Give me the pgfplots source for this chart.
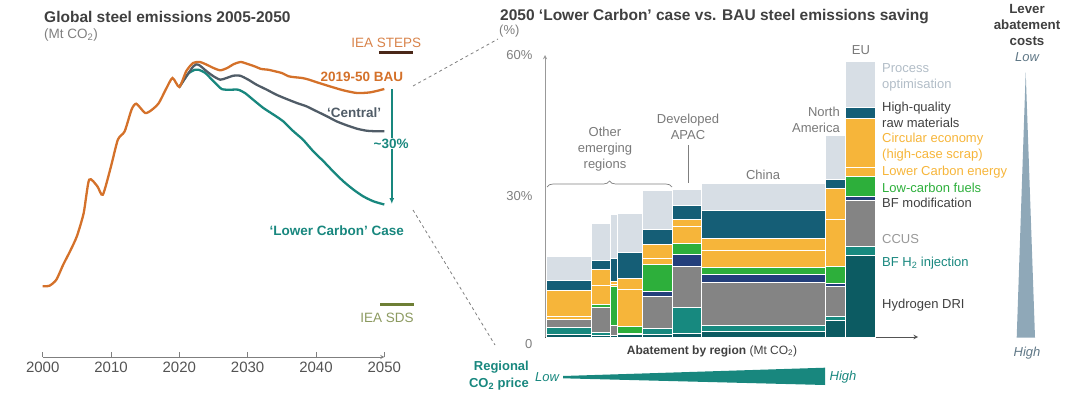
\documentclass[border=0pt]{standalone}
\usepackage{fontspec}
\setmainfont{Liberation Sans}
\usepackage{pgfplots}
\usepackage{pgfplotstable}
\pgfplotsset{compat=1.18}
\usetikzlibrary{arrows.meta,decorations.pathreplacing}

\definecolor{cHDRI}{HTML}{0C5B62}
\definecolor{cH2}{HTML}{17897F}
\definecolor{cCCUS}{HTML}{848484}
\definecolor{cBFM}{HTML}{233F7B}
\definecolor{cLCF}{HTML}{2DAF3B}
\definecolor{cOR}{HTML}{F6B53A}
\definecolor{cHQ}{HTML}{155E76}
\definecolor{cPO}{HTML}{D7DEE5}
\definecolor{cBAU}{HTML}{D4712A}
\definecolor{cCEN}{HTML}{505C67}
\definecolor{cLC}{HTML}{18877E}
\definecolor{cTxt}{HTML}{404040}
\definecolor{cGray}{HTML}{7F7F7F}
\definecolor{cSteps}{HTML}{4A2818}
\definecolor{cSDS}{HTML}{6E7F35}
\definecolor{cSDStxt}{HTML}{8C9A60}
\definecolor{cStepsTxt}{HTML}{D8834A}
\definecolor{cLever}{HTML}{8FA8B8}
\definecolor{cLeverTxt}{HTML}{5F7786}
\definecolor{cPOtxt}{HTML}{B2BDC7}

\newcommand{\fA}{\fontsize{13}{16}\selectfont}
\newcommand{\fT}{\fontsize{15.5}{18}\selectfont\bfseries}

% marimekko segments: left edge of each regional bar, cumulative tops (%)
\pgfplotstableread{
x HDRI H2 CCUS BFM LCF LCE CE HQ PO
1 0.5 2.1 3.8 3.8 3.8 4.4 9.8 12.1 17.1
46.5 0.3 0.9 6.2 6.2 7.0 11.0 14.4 16.2 24.2
65.5 0.3 0.3 2.4 2.4 10.8 11.2 11.8 16.8 26.0
72.5 0.5 0.8 0.8 0.8 2.3 10.2 12.5 17.9 26.3
97.5 0.5 1.8 8.7 9.6 15.5 16.7 19.7 22.8 31.1
127.5 0.7 6.3 15.0 17.5 19.9 23.6 24.9 28.0 31.4
156.5 1.2 2.4 11.7 13.4 14.7 18.5 21.0 26.9 32.6
280.5 3.5 4.3 10.7 11.3 15.1 24.9 31.6 33.6 42.8
300 17.3 19.2 29.1 29.9 34.1 36.0 46.5 48.8 58.6
330 17.3 19.2 29.1 29.9 34.1 36.0 46.5 48.8 58.6
}\segdata

\begin{document}
\begin{tikzpicture}
\path[use as bounding box] (0,0) rectangle (1079pt,392pt);

% ---------------- left chart ----------------
\begin{axis}[
  at={(42.7pt,35pt)}, anchor=south west,
  scale only axis, width=341.6pt, height=357pt,
  xmin=2000, xmax=2050, ymin=-5, ymax=352,
  clip=false,
  axis x line=bottom, axis y line=none,
  every non boxed x axis/.append style={x axis line style={-}},
  x axis line style={draw=cGray, line width=0.8pt},
  xtick={2000,2010,...,2050},
  xtick align=inside, major tick length=5pt,
  tick style={draw=cGray, line width=0.8pt},
  xticklabel style={font=\fontsize{15}{18}\selectfont, text=cTxt!90, yshift=-1pt},
  /pgf/number format/1000 sep={},
  /pgf/number format/assume math mode=true,
]
\addplot[cLC, line width=2.3pt, smooth, tension=0.4] coordinates {
(2020,265) (2021.3,278.3) (2022.3,282.3) (2022.8,282.3) (2023.8,279) (2025,270.7)
(2026.2,263) (2027.4,262.3) (2028.6,262.3) (2029.6,259) (2030.8,252.3) (2032.3,244)
(2033.8,237.3) (2035.2,230.7) (2036.7,220.7) (2038.1,212.3) (2039.6,200.7) (2041.1,190.7)
(2042.5,180.7) (2044,170.7) (2045.5,162.3) (2046.9,155.7) (2048.4,150.7) (2050,147.5)};
\addplot[cCEN, line width=2.3pt, smooth, tension=0.4] coordinates {
(2020,265) (2022.05,285.7) (2022.8,287.3) (2024,280.7) (2025,275.7) (2026,272.3)
(2026.9,274) (2027.9,276.3) (2028.9,276.3) (2030.1,272.3) (2031.3,267.3) (2032.8,262.3)
(2034.2,257.3) (2035.7,253) (2037.2,249) (2038.6,245.7) (2040.1,240.7) (2041.6,235.7)
(2043,230.7) (2044.5,226.7) (2046,223.3) (2047.4,221.3) (2048.9,220.7) (2050,220.7)};
\addplot[cBAU, line width=2.3pt, smooth, tension=0.4] coordinates {
(2000,65.7) (2001,66.3) (2002,72.3) (2003,87.3) (2004,100.7) (2005,115.7) (2006,139)
(2006.8,172.3) (2008,165.7) (2008.8,157.3) (2010,185.7) (2011,212.3) (2012,220.7)
(2013,242.3) (2013.7,248.3) (2015,239) (2016,242.3) (2017,249) (2018,262.3) (2019,274)
(2020,265) (2021,280.7) (2022,289) (2023,290) (2024,287.3) (2025,284) (2026,281.7)
(2027,284) (2028,288) (2029,290) (2030,288) (2031,285.7) (2032,283) (2033,282.3)
(2034,280.7) (2035,279) (2036,275.7) (2037,274.7) (2038,274) (2039,272.3) (2040,270)
(2042,265.7) (2044,261.7) (2046,259) (2048,259.7) (2050,263)};
% IEA scenario markers for 2050
\addplot[cSteps, line width=3pt] coordinates {(2049.2,299.5) (2054.2,299.5)};
\addplot[cSDS, line width=3pt] coordinates {(2049.4,48) (2054.4,48)};
\node[font=\fontsize{13.5}{16}\selectfont, text=cStepsTxt] at (axis cs:2050.3,309) {IEA STEPS};
\node[font=\fontsize{13.5}{16}\selectfont, text=cSDStxt] at (axis cs:2050.4,34) {IEA SDS};
\draw[cLC, line width=1.5pt, -{Latex[length=6pt,width=5pt]}] (axis cs:2051.1,263) -- (axis cs:2051.1,148);
\node[fill=white, inner sep=1pt, font=\fontsize{13.5}{16}\selectfont\bfseries, text=cLC] at (axis cs:2051,208.5) {\textasciitilde30\%};
\node[anchor=east, inner sep=0pt, font=\fontsize{13.5}{16}\selectfont\bfseries, text=cBAU] at (axis cs:2052.8,275) {2019-50 BAU};
\node[inner sep=0pt, font=\fontsize{13.5}{16}\selectfont\bfseries, text=cCEN] at (axis cs:2045.6,239) {‘Central’};
\node[anchor=east, inner sep=0pt, font=\fontsize{13.5}{16}\selectfont\bfseries, text=cLC] at (axis cs:2052.9,121) {‘Lower Carbon’ Case};
\end{axis}

\node[anchor=west, inner sep=0pt, text=cTxt, font=\fT] at (44pt,375pt) {Global steel emissions 2005-2050};
\node[anchor=west, inner sep=0pt, text=cGray, font=\fontsize{13.5}{16}\selectfont] at (44pt,357pt) {(Mt CO\textsubscript{2})};

% connector dashes
\draw[cGray, dashed, line width=0.8pt] (413pt,306pt) -- (498pt,353pt);
\draw[cGray, dashed, line width=0.8pt] (413pt,182pt) -- (495pt,47pt);

% ---------------- right chart ----------------
\begin{axis}[
  at={(545pt,55pt)}, anchor=south west,
  scale only axis, width=373pt, height=282pt,
  xmin=0, xmax=373, ymin=0, ymax=60,
  clip=false,
  axis x line=bottom, axis y line=left,
  every non boxed x axis/.append style={x axis line style={-{Latex[length=8pt,width=6pt]}}},
  every non boxed y axis/.append style={y axis line style={-}},
  x axis line style={draw=cTxt!90, line width=1pt},
  y axis line style={draw=cGray!80, line width=0.9pt},
  xtick=\empty, ytick={30,60}, yticklabels={30\%,60\%},
  extra y ticks={0}, extra y tick labels={0},
  extra y tick style={yticklabel style={yshift=-7pt}},
  major tick length=0pt,
  yticklabel style={font=\fontsize{13}{15}\selectfont, text=cGray, xshift=-9pt},
]
\addplot[ybar interval, fill=cPO, draw=white, line width=1pt] table[x=x,y=PO] {\segdata};
\addplot[ybar interval, fill=cHQ, draw=white, line width=1pt] table[x=x,y=HQ] {\segdata};
\addplot[ybar interval, fill=cOR, draw=white, line width=1pt] table[x=x,y=CE] {\segdata};
\addplot[ybar interval, fill=cOR, draw=white, line width=1pt] table[x=x,y=LCE] {\segdata};
\addplot[ybar interval, fill=cLCF, draw=white, line width=1pt] table[x=x,y=LCF] {\segdata};
\addplot[ybar interval, fill=cBFM, draw=white, line width=1pt] table[x=x,y=BFM] {\segdata};
\addplot[ybar interval, fill=cCCUS, draw=white, line width=1pt] table[x=x,y=CCUS] {\segdata};
\addplot[ybar interval, fill=cH2, draw=white, line width=1pt] table[x=x,y=H2] {\segdata};
\addplot[ybar interval, fill=cHDRI, draw=white, line width=1pt] table[x=x,y=HDRI] {\segdata};
\end{axis}

\node[anchor=west, inner sep=0pt, text=cTxt, font=\fT] at (500pt,375pt) {2050 ‘Lower Carbon’ case vs. BAU steel emissions saving};
\node[anchor=west, inner sep=0pt, text=cGray, font=\fA] at (499pt,361pt) {(\%)};

% region labels
\node[align=center, text=cGray!95!black, inner sep=0pt, font=\fA] at (605pt,243pt) {Other\\emerging\\regions};
\draw[cGray, line width=0.7pt, decorate, decoration={brace, amplitude=6pt}] (547pt,205pt) -- (672pt,205pt);
\node[align=center, text=cGray!95!black, inner sep=0pt, font=\fA] at (688pt,265.5pt) {Developed\\APAC};
\draw[cGray, line width=0.7pt] (688pt,247pt) -- (688pt,209pt);
\node[text=cGray!95!black, inner sep=0pt, font=\fA] at (763pt,217pt) {China};
\node[align=right, anchor=east, text=cGray!95!black, inner sep=0pt, font=\fA] at (840pt,272pt) {North\\America};
\node[text=cGray!95!black, inner sep=0pt, font=\fA] at (861pt,342pt) {EU};

% lever labels (legend)
\node[anchor=west, align=left, inner sep=0pt, text=cPOtxt, font=\fA] at (882pt,314.5pt) {Process\\optimisation};
\node[anchor=west, align=left, inner sep=0pt, text=cTxt, font=\fA] at (882pt,277pt) {High-quality\\raw materials};
\node[anchor=west, align=left, inner sep=0pt, text=cOR, font=\fA] at (882pt,244.5pt) {Circular economy\\(high-case scrap)};
\node[anchor=west, inner sep=0pt, text=cOR, font=\fA] at (882pt,220pt) {Lower Carbon energy};
\node[anchor=west, inner sep=0pt, text=cLCF, font=\fA] at (882pt,204pt) {Low-carbon fuels};
\node[anchor=west, inner sep=0pt, text=cTxt, font=\fA] at (882pt,189pt) {BF modification};
\node[anchor=west, inner sep=0pt, text=cGray!80, font=\fA] at (882pt,153pt) {CCUS};
\node[anchor=west, inner sep=0pt, text=cLC, font=\fA] at (882pt,129pt) {BF H\textsubscript{2} injection};
\node[anchor=west, inner sep=0pt, text=cTxt, font=\fA] at (882pt,87pt) {Hydrogen DRI};

% x-axis title
\node[text=cTxt, inner sep=0pt, font=\fontsize{12}{14}\selectfont] at (712pt,41pt) {\textbf{Abatement by region} (Mt CO\textsubscript{2})};

% regional CO2 price wedge
\node[align=right, anchor=east, text=cLC, inner sep=0pt, font=\fontsize{13}{16.5}\selectfont\bfseries] at (529pt,16.5pt) {Regional\\CO\textsubscript{2} price};
\node[text=cLC, inner sep=0pt, font=\fA\itshape] at (547pt,15pt) {Low};
\fill[cLC] (563pt,16pt) -- (825pt,24.3pt) -- (825pt,7pt) -- (563pt,13.7pt) -- cycle;
\node[text=cLC, inner sep=0pt, font=\fA\itshape] at (843pt,15pt) {High};

% lever abatement costs wedge
\node[align=center, text=cTxt, inner sep=0pt, font=\fontsize{13.3}{16}\selectfont\bfseries] at (1027pt,367pt) {Lever\\abatement\\costs};
\node[text=cLeverTxt, inner sep=0pt, font=\fA\itshape] at (1027pt,335pt) {Low};
\fill[cLever] (1025.7pt,320pt) -- (1035pt,54.5pt) -- (1016.7pt,54.5pt) -- cycle;
\node[text=cLeverTxt, inner sep=0pt, font=\fA\itshape] at (1027pt,39pt) {High};
\end{tikzpicture}
\end{document}
